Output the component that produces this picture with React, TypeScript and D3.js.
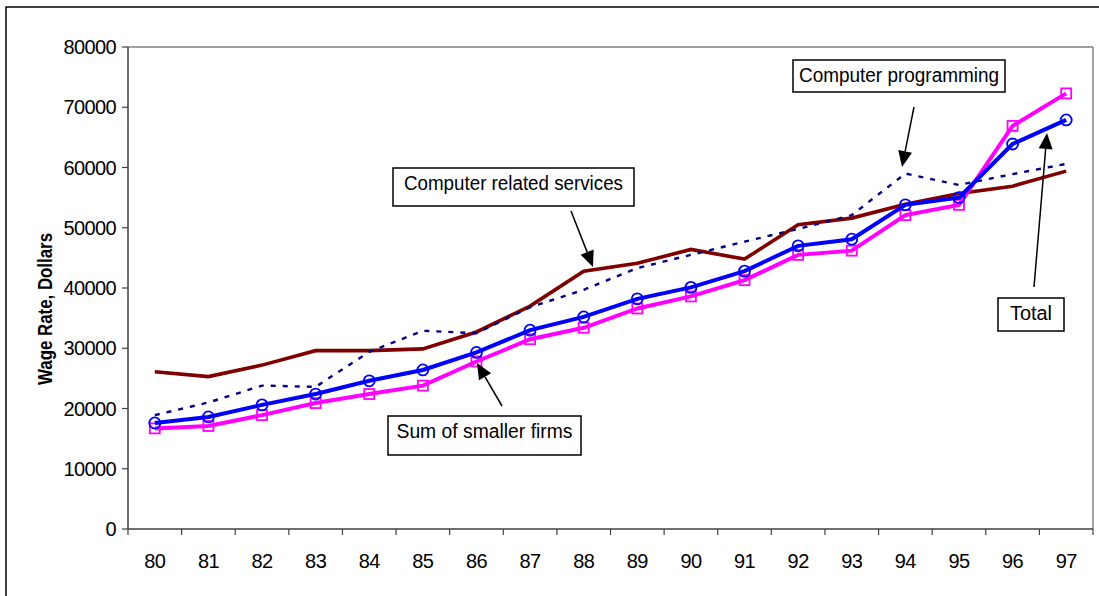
import React from "react";
import * as d3 from "d3";

const years = ["80","81","82","83","84","85","86","87","88","89","90","91","92","93","94","95","96","97"];
const relatedServices = [26100,25300,27200,29600,29600,29900,32700,37000,42800,44100,46400,44800,50500,51600,53900,55700,56900,59400];
const programming = [18900,21000,23800,23600,29400,32900,32500,36800,39700,43300,45500,47700,49800,52100,59000,57100,58900,60600];
const total = [17600,18600,20600,22400,24600,26400,29300,33000,35200,38200,40100,42800,47000,48100,53800,55000,63900,67900];
const smallerFirms = [16700,17100,18900,20900,22400,23800,27800,31500,33400,36600,38600,41300,45500,46200,52100,53800,66900,72300];
const yTicks = [0,10000,20000,30000,40000,50000,60000,70000,80000];

const W = 1099, H = 596;
const left = 128, right = 1093, top = 47, bottom = 529;

export default function App() {
  const x = d3.scaleBand().domain(years).range([left, right]);
  const y = d3.scaleLinear().domain([0, 80000]).range([bottom, top]);
  const cx = (i: number) => (x(years[i]) as number) + x.bandwidth() / 2;
  const line = d3.line<number>().x((_, i) => cx(i)).y(d => y(d));
  const font = "'Liberation Sans', Arial, sans-serif";

  const ann = [
    { text: "Computer programming", x0: 793, y0: 60, x1: 1005, y1: 92, tl: 200, ax: [914, 107, 902, 167] },
    { text: "Computer related services", x0: 393, y0: 168, x1: 634, y1: 206, tl: 219, ax: [571, 211, 593, 267] },
    { text: "Sum of smaller firms", x0: 388, y0: 416, x1: 581, y1: 455, tl: 176, ax: [502, 406, 477, 363] },
    { text: "Total", x0: 998, y0: 298, x1: 1064, y1: 331, tl: 42, ax: [1034, 287, 1047, 133] },
  ];

  const arrow = (a: number[], k: number) => {
    const [x1, y1, x2, y2] = a;
    const ang = Math.atan2(y2 - y1, x2 - x1);
    const len = 16, half = 7;
    const bx = x2 - len * Math.cos(ang), by = y2 - len * Math.sin(ang);
    const px = -Math.sin(ang) * half, py = Math.cos(ang) * half;
    return (
      <g key={"ar" + k}>
        <line x1={x1} y1={y1} x2={bx} y2={by} stroke="#000" strokeWidth={1.5} />
        <polygon points={`${x2},${y2} ${bx + px},${by + py} ${bx - px},${by - py}`} fill="#000" />
      </g>
    );
  };

  return (
    <svg width={W} height={H} style={{ position: "absolute", left: 0, top: 0 }} fontFamily={font}>
      <rect x={0} y={0} width={W} height={H} fill="#fff" />
      <rect x={6} y={7} width={W + 20} height={H + 20} fill="none" stroke="#000" strokeWidth={1.5} />
      {/* plot border */}
      <line x1={left} y1={top} x2={right} y2={top} stroke="#808080" strokeWidth={1.5} />
      <line x1={right} y1={top} x2={right} y2={bottom} stroke="#808080" strokeWidth={1.5} />
      {/* y axis */}
      <line x1={left} y1={top} x2={left} y2={bottom} stroke="#404040" strokeWidth={1.5} />
      {yTicks.map(t => (
        <g key={t}>
          <line x1={left - 6} x2={left} y1={y(t)} y2={y(t)} stroke="#404040" strokeWidth={1.2} />
          <text x={116} y={y(t) + 7} textAnchor="end" fontSize={20} letterSpacing={-0.6}>{t}</text>
        </g>
      ))}
      {/* x axis */}
      <line x1={left} y1={bottom} x2={right} y2={bottom} stroke="#404040" strokeWidth={1.5} />
      {years.map((yr, i) => (
        <g key={yr}>
          <line x1={(x(yr) as number) + x.bandwidth()} x2={(x(yr) as number) + x.bandwidth()} y1={bottom} y2={bottom + 6} stroke="#404040" strokeWidth={1.2} />
          <text x={cx(i)} y={568} textAnchor="middle" fontSize={20} letterSpacing={-0.6}>{yr}</text>
        </g>
      ))}
      <line x1={left} x2={left} y1={bottom} y2={bottom + 6} stroke="#404040" strokeWidth={1.2} />
      <text transform={`translate(52,309) rotate(-90)`} textAnchor="middle" fontSize={20} fontWeight="bold" textLength={152} lengthAdjust="spacingAndGlyphs">Wage Rate, Dollars</text>

      {/* series */}
      <path d={line(relatedServices) as string} fill="none" stroke="#800000" strokeWidth={3.6} />
      <path d={line(programming) as string} fill="none" stroke="#000080" strokeWidth={2.4} strokeDasharray="5,7" />
      <path d={line(smallerFirms) as string} fill="none" stroke="#ff00ff" strokeWidth={4} />
      {smallerFirms.map((v, i) => (
        <rect key={"s" + i} x={cx(i) - 5} y={y(v) - 5} width={10} height={10} fill="none" stroke="#ff00ff" strokeWidth={1.8} />
      ))}
      <path d={line(total) as string} fill="none" stroke="#0000ff" strokeWidth={4} />
      {total.map((v, i) => (
        <circle key={"t" + i} cx={cx(i)} cy={y(v)} r={5.5} fill="none" stroke="#0000ff" strokeWidth={1.8} />
      ))}

      {/* annotations */}
      {ann.map((a, k) => (
        <g key={"an" + k}>
          <rect x={a.x0} y={a.y0} width={a.x1 - a.x0} height={a.y1 - a.y0} fill="#fff" stroke="#000" strokeWidth={1.5} />
          <text x={(a.x0 + a.x1) / 2} y={a.y0 + 22} textAnchor="middle" fontSize={20} textLength={a.tl} lengthAdjust="spacingAndGlyphs">{a.text}</text>
          {arrow(a.ax, k)}
        </g>
      ))}
    </svg>
  );
}
